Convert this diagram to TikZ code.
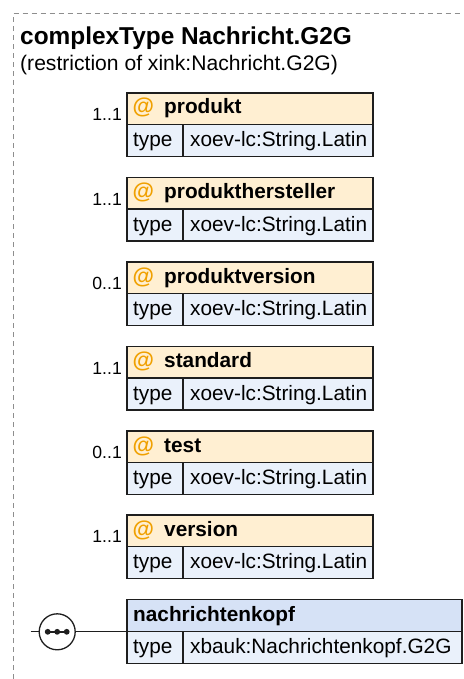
\documentclass[tikz,border=0pt]{standalone}
\usepackage{fontspec}
\setmainfont{Liberation Sans}
\usetikzlibrary{calc}

\definecolor{framegray}{HTML}{8E8E8E}
\definecolor{boxline}{HTML}{1E1E1E}
\definecolor{attrfill}{HTML}{FFEFD2}
\definecolor{typefill}{HTML}{EAF1FB}
\definecolor{elemfill}{HTML}{D6E2F6}
\definecolor{atsign}{HTML}{F0A000}

\tikzset{
  frame/.style={draw=framegray, line width=1.3pt, dash pattern=on 5pt off 4pt},
  cell/.style={draw=boxline, line width=1.3pt, inner sep=0pt, outer sep=0pt,
    rectangle, anchor=north west},
  attrhead/.style={cell, fill=attrfill, minimum height=31.5pt},
  elemhead/.style={cell, fill=elemfill, minimum height=32.5pt},
  typecell/.style={cell, fill=typefill, minimum height=32pt},
  txt/.style={anchor=base west, inner sep=0pt, font=\fontsize{20.8}{24}\selectfont},
  boldtxt/.style={txt, font=\fontsize{20.8}{24}\selectfont\bfseries},
  atmark/.style={anchor=base west, inner sep=0pt, text=atsign,
    font=\fontsize{22}{24}\selectfont\bfseries},
  card/.style={anchor=base east, inner sep=0pt, font=\fontsize{17.6}{20}\selectfont},
  conn/.style={draw=boxline, line width=1.3pt},
}

% one attribute: header with "@ name", a type row below, cardinality on the left
\newcommand\attrbox[4]{%
  \node[attrhead, minimum width=246pt] (#1h) at (127,#2) {};
  \node[typecell, minimum width=56pt] (#1t) at (#1h.south west) {};
  \node[typecell, minimum width=190pt] (#1v) at (#1t.north east) {};
  \node[atmark] (#1at) at (132.5,{#2+21}) {@};
  \node[boldtxt] (#1n) at (164,{#2+21}) {#4};
  \node[txt] (#1tl) at (133,{#2+53.5}) {type};
  \node[txt] (#1vl) at (190,{#2+53.5}) {xoev-lc:String.Latin};
  \node[card] (#1c) at (122,{#2+27.5}) {#3};
}

\begin{document}
\begin{tikzpicture}[x=1pt, y=-1pt]
  \useasboundingbox (0,0) rectangle (463,679);

  % open dashed frame of the type
  \draw[frame] (13.3,679) -- (13.3,13.3) -- (463,13.3);

  \node[anchor=base west, inner sep=0pt, font=\fontsize{24.4}{28}\selectfont\bfseries]
    (title) at (20,45) {complexType Nachricht.G2G};
  \node[anchor=base west, inner sep=0pt, font=\fontsize{21.1}{24}\selectfont]
    (subtitle) at (20,71) {(restriction of xink:Nachricht.G2G)};

  \attrbox{a}{93}{1..1}{produkt}
  \attrbox{b}{177.5}{1..1}{produkthersteller}
  \attrbox{c}{262}{0..1}{produktversion}
  \attrbox{d}{346.5}{1..1}{standard}
  \attrbox{e}{431}{0..1}{test}
  \attrbox{f}{515}{1..1}{version}

  % element nachrichtenkopf
  \node[elemhead, minimum width=335pt] (kh) at (127,599.3) {};
  \node[typecell, minimum width=56pt] (kt) at (kh.south west) {};
  \node[typecell, minimum width=279pt] (kv) at (kt.north east) {};
  \node[boldtxt] (kn) at (133,{599.3+22}) {nachrichtenkopf};
  \node[txt] (ktl) at (133,{599.3+54.5}) {type};
  \node[txt] (kvl) at (190,{599.3+54.5}) {xbauk:Nachrichtenkopf.G2G};

  % sequence compositor
  \coordinate (seqin) at (30.7,631.8);
  \node[circle, draw=boxline, line width=1.3pt, fill=white, minimum size=36pt,
    inner sep=0pt, outer sep=0pt] (seq) at (57.2,631.8) {};
  \draw[conn] (seqin) -- (seq.west);
  \draw[conn] (seq.east) -- (kh.south west);
  \draw[conn, line width=1.6pt] ($(seq.center)+(-9.5,0)$) -- ($(seq.center)+(9.5,0)$);
  \foreach \dx in {-9.5,0,9.5}
    \fill[boxline] ($(seq.center)+(\dx,0)$) circle (2.9pt);
\end{tikzpicture}
\end{document}
